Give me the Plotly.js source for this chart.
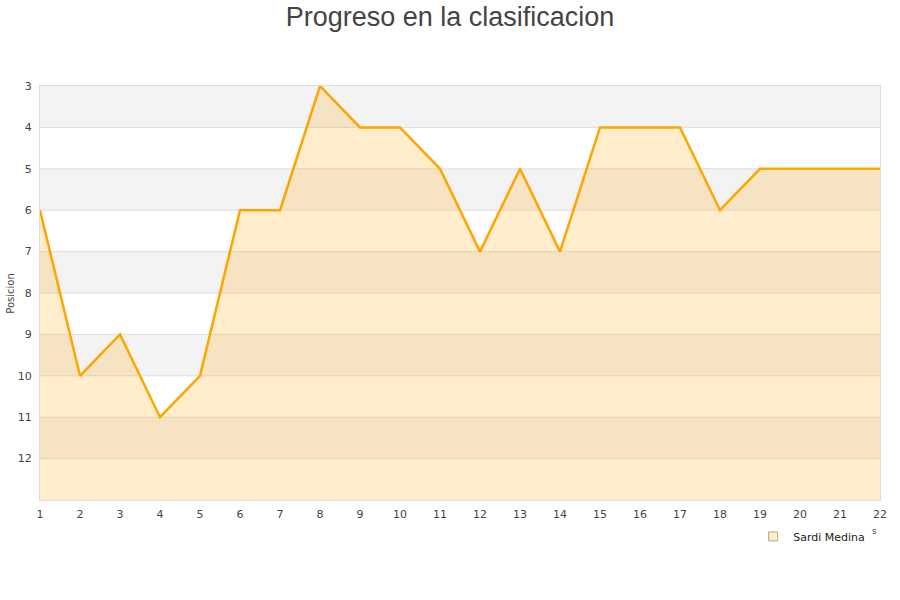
<!DOCTYPE html>
<html>
<head>
<meta charset="utf-8">
<script src="https://cdn.plot.ly/plotly-3.0.1.min.js"></script>
<style>body{margin:0;background:#fff}#chart{width:900px;height:600px}</style>
</head>
<body>
<div id="chart"></div>
<script>
const jornadas = [1,2,3,4,5,6,7,8,9,10,11,12,13,14,15,16,17,18,19,20,21,22];
const posicion = [6,10,9,11,10,6,6,3,4,4,5,7,5,7,4,4,4,6,5,5,5,5];
const yTicks = [3,4,5,6,7,8,9,10,11,12];
const bandStarts = [3,5,7,9,11];
const gridVals = [4,5,6,7,8,9,10,11,12];
const seriesName = 'Sardi Medina';
const baseline = 13;

const shapes = [];
bandStarts.forEach(b => shapes.push({type:'rect', xref:'paper', yref:'y', x0:0, x1:1, y0:b, y1:b+1,
  fillcolor:'#f3f3f3', line:{width:0}, layer:'below'}));
gridVals.forEach(g => shapes.push({type:'line', xref:'paper', yref:'y', x0:0, x1:1, y0:g, y1:g,
  line:{color:'#dddddd', width:1}, layer:'below'}));

const traces = [
  {x: jornadas, y: jornadas.map(() => baseline), mode:'lines', line:{width:0}, showlegend:false, hoverinfo:'skip'},
  {x: jornadas, y: posicion, mode:'lines', fill:'tonexty', fillcolor:'rgba(255,165,0,0.2)',
   line:{color:'#ffa500', width:2.5}, showlegend:false, name: seriesName},
  {x:[null], y:[null], mode:'markers', name: seriesName,
   marker:{symbol:'square', size:9, color:'#ffedcc', line:{color:'#b8a888', width:1}}}
];

const layout = {
  width:900, height:600,
  margin:{l:40, r:20, t:86, b:100},
  paper_bgcolor:'#ffffff', plot_bgcolor:'#ffffff',
  font:{family:'DejaVu Sans', size:11, color:'#444444'},
  title:{text:'Progreso en la clasificacion', font:{family:'Liberation Sans, Arial', size:27, color:'#444444'},
    x:0.5, xanchor:'center', y:0.972, yanchor:'middle'},
  xaxis:{range:[1,22], tickvals:jornadas, showgrid:false, zeroline:false, showline:true, mirror:true,
    linecolor:'#dddddd', linewidth:1, ticks:'', ticklabelstandoff:4, tickfont:{size:11, color:'#444444'}, fixedrange:true},
  yaxis:{range:[13,3], tickvals:yTicks, showgrid:false, zeroline:false, showline:true, mirror:true,
    linecolor:'#dddddd', linewidth:1, ticks:'', ticklabelstandoff:5, tickfont:{size:11, color:'#444444'}, fixedrange:true},
  shapes: shapes,
  showlegend:true,
  legend:{x:0.849, xanchor:'left', y:-0.053, yanchor:'top', orientation:'h', bgcolor:'rgba(0,0,0,0)',
    itemwidth:30, font:{family:'DejaVu Sans', size:11, color:'#222222'}},
  annotations:[
    {text:'Posicion', xref:'paper', yref:'paper', x:-0.036, y:0.5, textangle:-90, showarrow:false,
     xanchor:'center', yanchor:'middle', font:{size:10, color:'#444444'}},
    {text:'s', xref:'paper', yref:'paper', x:(874-40)/840, y:(500-531)/414, showarrow:false,
     xanchor:'center', yanchor:'middle', font:{size:9, color:'#444444'}}
  ]
};
Plotly.newPlot('chart', traces, layout, {displayModeBar:false, staticPlot:true});
</script>
</body>
</html>
